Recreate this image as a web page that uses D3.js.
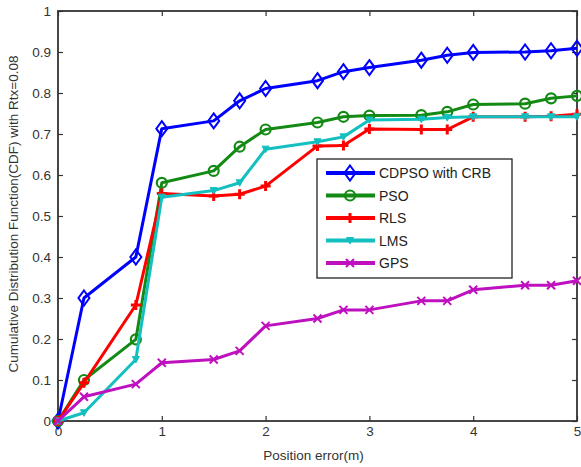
<!DOCTYPE html>
<html><head><meta charset="utf-8">
<script src="https://cdn.jsdelivr.net/npm/d3@7"></script>
<style>body{margin:0;background:#fff}svg{display:block}</style>
</head><body>
<script>
const xValues = [0, 0.25, 0.75, 1, 1.5, 1.75, 2, 2.5, 2.75, 3, 3.5, 3.75, 4, 4.5, 4.75, 5];
const cdpso = [0, 0.30, 0.40, 0.713, 0.732, 0.781, 0.811, 0.83, 0.852, 0.862, 0.88, 0.892, 0.899, 0.90, 0.903, 0.909];
const pso   = [0, 0.10, 0.199, 0.581, 0.61, 0.669, 0.711, 0.728, 0.742, 0.745, 0.746, 0.754, 0.772, 0.774, 0.787, 0.793];
const rls   = [0, 0.093, 0.283, 0.555, 0.549, 0.553, 0.573, 0.671, 0.672, 0.712, 0.711, 0.711, 0.742, 0.742, 0.743, 0.748];
const lms   = [0, 0.02, 0.15, 0.546, 0.562, 0.581, 0.663, 0.681, 0.693, 0.734, 0.736, 0.74, 0.742, 0.742, 0.742, 0.742];
const gps   = [0, 0.059, 0.09, 0.142, 0.15, 0.171, 0.232, 0.25, 0.271, 0.271, 0.293, 0.293, 0.32, 0.331, 0.331, 0.342];
const seriesNames = ["CDPSO with CRB", "PSO", "RLS", "LMS", "GPS"];
const seriesColors = ["#0000ff", "#138a13", "#ff0000", "#13bfbf", "#bf10bf"];
const seriesMarkers = ["diamond", "circle", "plus", "tri", "x"];
const xTicks = [0, 1, 2, 3, 4, 5];
const yTicks = [0, 0.1, 0.2, 0.3, 0.4, 0.5, 0.6, 0.7, 0.8, 0.9, 1];
const xLabel = "Position error(m)";
const yLabel = "Cumulative Distribution Function(CDF) with Rtx=0.08";

const W = 581, H = 467;
const L = 58, R = 577, T = 11, B = 421;
const svg = d3.select("body").append("svg").attr("width", W).attr("height", H)
  .style("font-family", "Liberation Sans, Arial, sans-serif");
const x = d3.scaleLinear().domain([0, 5]).range([L, R]);
const y = d3.scaleLinear().domain([0, 1]).range([B, T]);

const axisCol = "#333";
const gx = svg.append("g").attr("transform", `translate(0,${B})`)
  .call(d3.axisBottom(x).tickValues(xTicks).tickFormat(d3.format("d")).tickSize(-5).tickPadding(5));
const gxt = svg.append("g").attr("transform", `translate(0,${T})`)
  .call(d3.axisTop(x).tickValues(xTicks).tickFormat("").tickSize(-5));
const gy = svg.append("g").attr("transform", `translate(${L},0)`)
  .call(d3.axisLeft(y).tickValues(yTicks).tickFormat(d => d === 0 ? "0" : d === 1 ? "1" : d3.format(".1f")(d)).tickSize(-5).tickPadding(7));
const gyr = svg.append("g").attr("transform", `translate(${R},0)`)
  .call(d3.axisRight(y).tickValues(yTicks).tickFormat("").tickSize(-5));
[gx, gxt, gy, gyr].forEach(g => {
  g.select(".domain").remove();
  g.selectAll("line").attr("stroke", axisCol).attr("stroke-width", 1.2);
  g.selectAll("text").attr("fill", "#333").style("font-size", "13.5px");
});
svg.append("rect").attr("x", L).attr("y", T).attr("width", R - L).attr("height", B - T)
  .attr("fill", "none").attr("stroke", axisCol).attr("stroke-width", 1.8);

const allSeries = [cdpso, pso, rls, lms, gps];

function drawMarker(g, type, cx, cy, color) {
  if (type === "diamond") {
    g.append("path").attr("d", `M${cx},${cy-7.5}L${cx+5.5},${cy}L${cx},${cy+7.5}L${cx-5.5},${cy}Z`)
      .attr("fill", "none").attr("stroke", color).attr("stroke-width", 2);
  } else if (type === "circle") {
    g.append("circle").attr("cx", cx).attr("cy", cy).attr("r", 5)
      .attr("fill", "none").attr("stroke", color).attr("stroke-width", 2.2);
  } else if (type === "plus") {
    g.append("path").attr("d", `M${cx-5},${cy}H${cx+5}M${cx},${cy-5}V${cy+5}`)
      .attr("stroke", color).attr("stroke-width", 3);
  } else if (type === "tri") {
    g.append("path").attr("d", `M${cx-3.5},${cy-3}L${cx+3.5},${cy-3}L${cx},${cy+3.5}Z`)
      .attr("fill", color).attr("stroke", color).attr("stroke-width", 1);
  } else if (type === "x") {
    g.append("path").attr("d", `M${cx-4},${cy-4}L${cx+4},${cy+4}M${cx-4},${cy+4}L${cx+4},${cy-4}`)
      .attr("stroke", color).attr("stroke-width", 2);
  }
}

const line = d3.line().x(d => x(d[0])).y(d => y(d[1]));
allSeries.forEach((vals, i) => {
  const pts = xValues.map((xv, j) => [xv, vals[j]]);
  const g = svg.append("g");
  g.append("path").attr("d", line(pts)).attr("fill", "none")
    .attr("stroke", seriesColors[i]).attr("stroke-width", 3).attr("stroke-linejoin", "round");
  pts.forEach(p => drawMarker(g, seriesMarkers[i], x(p[0]), y(p[1]), seriesColors[i]));
});

const lg = svg.append("g");
lg.append("rect").attr("x", 317).attr("y", 159).attr("width", 195).attr("height", 119)
  .attr("fill", "#fff").attr("stroke", "#222").attr("stroke-width", 1.3);
seriesNames.forEach((n, i) => {
  const yy = 173 + i * 22.5;
  lg.append("line").attr("x1", 326).attr("x2", 375).attr("y1", yy).attr("y2", yy)
    .attr("stroke", seriesColors[i]).attr("stroke-width", 4);
  drawMarker(lg, seriesMarkers[i], 350, yy, seriesColors[i]);
  lg.append("text").attr("x", 379).attr("y", yy).attr("dy", "0.36em")
    .style("font-size", "14px").attr("fill", "#222").text(n);
});

svg.append("text").attr("x", (L + R) / 2 - 4).attr("y", 460).attr("text-anchor", "middle")
  .style("font-size", "13.5px").attr("fill", "#333").text(xLabel);
svg.append("text").attr("transform", `translate(18,${(T + B) / 2 - 2}) rotate(-90)`)
  .attr("text-anchor", "middle").style("font-size", "13.5px").attr("fill", "#333").text(yLabel);
</script>
</body></html>
